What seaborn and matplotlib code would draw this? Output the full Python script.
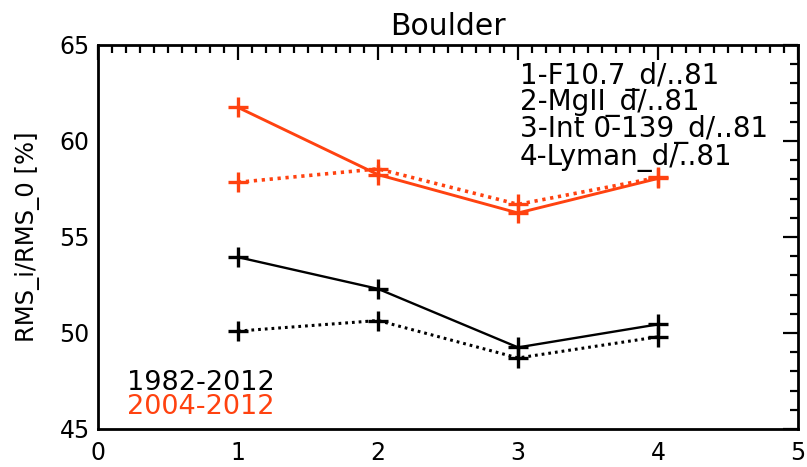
import matplotlib
matplotlib.use("Agg")
import matplotlib.pyplot as plt
import seaborn as sns
import pandas as pd
from matplotlib.ticker import MultipleLocator

x_vals = [1, 2, 3, 4]
black_solid = [53.95, 52.3, 49.25, 50.45]
black_dotted = [50.1, 50.65, 48.7, 49.8]
red_solid = [61.75, 58.25, 56.25, 58.05]
red_dotted = [57.85, 58.55, 56.7, 58.1]
legend_lines = ["1-F10.7_d/..81", "2-MgII_d/..81", "3-Int 0-139_d/..81", "4-Lyman_d/..81"]
period_labels = ["1982-2012", "2004-2012"]
title = "Boulder"
ylabel = "RMS_i/RMS_0 [%]"

RED = "#ff4210"
sns.set_style("white")
plt.rcParams['font.family'] = ['DejaVu Sans']
plt.rcParams['text.color'] = 'black'
plt.rcParams['axes.labelcolor'] = 'black'
plt.rcParams['xtick.color'] = 'black'
plt.rcParams['ytick.color'] = 'black'

fig = plt.figure(figsize=(8.07, 4.67), dpi=100)
ax = fig.add_axes([98 / 807, 1 - 429 / 467, 700 / 807, 384 / 467])

series = [
    (black_solid, "black", "-", 1.7),
    (black_dotted, "black", (0, (0.9, 1.3)), 2.2),
    (red_solid, RED, "-", 2.1),
    (red_dotted, RED, (0, (0.9, 1.3)), 2.6),
]
for vals, col, ls, lw in series:
    df = pd.DataFrame({"x": x_vals, "y": vals})
    sns.lineplot(data=df, x="x", y="y", ax=ax, color=col, linestyle=ls,
                 linewidth=lw, marker="+", markersize=14, markeredgewidth=2.4,
                 markeredgecolor=col)

ax.set_xlim(0, 5)
ax.set_ylim(45, 65)
ax.xaxis.set_major_locator(MultipleLocator(1))
ax.xaxis.set_minor_locator(MultipleLocator(0.1))
ax.yaxis.set_major_locator(MultipleLocator(5))
ax.yaxis.set_minor_locator(MultipleLocator(1))
ax.tick_params(which="both", direction="in", top=True, right=True, color="black", width=1.6)
ax.tick_params(which="major", length=11, labelsize=17)
ax.tick_params(axis="x", which="major", pad=9)
ax.tick_params(axis="y", which="major", pad=6)
ax.tick_params(which="minor", length=5.5)
for s in ax.spines.values():
    s.set_linewidth(2.0)
    s.set_color("black")
ax.set_xlabel("")
ax.set_ylabel(ylabel, fontsize=17.5)
ax.yaxis.set_label_coords(-0.083, 0.5)
ax.set_title(title, fontsize=21.5, pad=7)

legend_y = [0.917, 0.849, 0.779, 0.708]
for t, yy in zip(legend_lines, legend_y):
    ax.text(0.603, yy, t, transform=ax.transAxes, fontsize=20,
            ha="left", va="center", color="black")

ax.text(0.041, 0.120, period_labels[0], transform=ax.transAxes, fontsize=19.5,
        ha="left", va="center", color="black")
ax.text(0.041, 0.057, period_labels[1], transform=ax.transAxes, fontsize=19.5,
        ha="left", va="center", color=RED)

fig.savefig("out.png", dpi=100)
